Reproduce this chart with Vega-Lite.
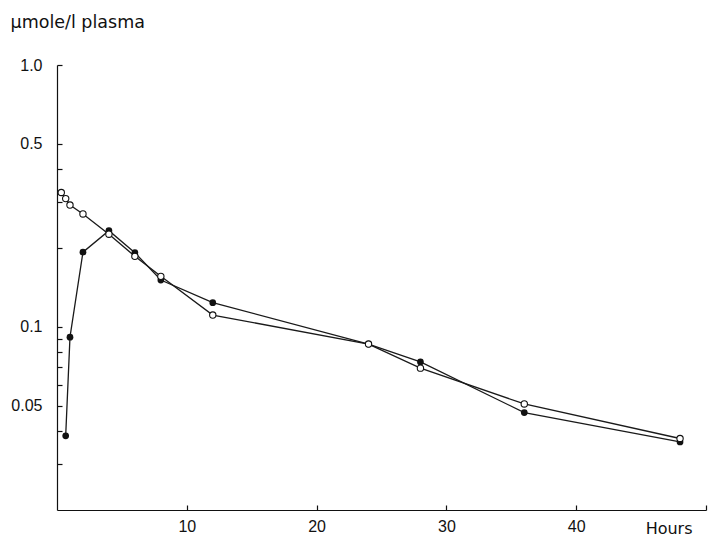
{
  "$schema": "https://vega.github.io/schema/vega-lite/v6.json",
  "width": 649,
  "height": 445,
  "autosize": {"type": "none"},
  "padding": {"left": 57, "top": 65, "right": 3, "bottom": 28},
  "background": "white",
  "config": {
    "view": {"stroke": null},
    "axis": {
      "grid": false,
      "domainColor": "#111",
      "tickColor": "#111",
      "labelColor": "#111",
      "titleColor": "#111",
      "labelFont": "Liberation Sans",
      "labelFontSize": 16,
      "titleFont": "DejaVu Sans",
      "titleFontSize": 17,
      "titleFontWeight": "normal",
      "domainWidth": 1.2,
      "tickWidth": 1.2
    }
  },
  "data": {
    "values": [
      {"t": 0.33, "v": 0.326, "series": "open"},
      {"t": 0.67, "v": 0.309, "series": "open"},
      {"t": 1, "v": 0.292, "series": "open"},
      {"t": 2, "v": 0.270, "series": "open"},
      {"t": 4, "v": 0.226, "series": "open"},
      {"t": 6, "v": 0.186, "series": "open"},
      {"t": 8, "v": 0.156, "series": "open"},
      {"t": 12, "v": 0.111, "series": "open"},
      {"t": 24, "v": 0.086, "series": "open"},
      {"t": 28, "v": 0.0696, "series": "open"},
      {"t": 36, "v": 0.0508, "series": "open"},
      {"t": 48, "v": 0.0375, "series": "open"},
      {"t": 0.67, "v": 0.0384, "series": "filled"},
      {"t": 1, "v": 0.0914, "series": "filled"},
      {"t": 2, "v": 0.193, "series": "filled"},
      {"t": 4, "v": 0.233, "series": "filled"},
      {"t": 6, "v": 0.192, "series": "filled"},
      {"t": 8, "v": 0.151, "series": "filled"},
      {"t": 12, "v": 0.1238, "series": "filled"},
      {"t": 24, "v": 0.086, "series": "filled"},
      {"t": 28, "v": 0.0735, "series": "filled"},
      {"t": 36, "v": 0.0471, "series": "filled"},
      {"t": 48, "v": 0.0364, "series": "filled"}
    ]
  },
  "encoding": {
    "x": {
      "field": "t",
      "type": "quantitative",
      "scale": {"domain": [0, 50], "nice": false, "zero": false},
      "axis": {
        "values": [10, 20, 30, 40, 50],
        "labelExpr": "datum.value == 50 ? '' : datum.label",
        "tickSize": -5,
        "labelPadding": 13,
        "title": "Hours",
        "titleFontSize": 16,
        "titleX": 635,
        "titleY": 18,
        "titleAlign": "right",
        "titleBaseline": "middle"
      }
    },
    "y": {
      "field": "v",
      "type": "quantitative",
      "scale": {"type": "log", "domain": [0.02, 1], "nice": false, "zero": false},
      "axis": {
        "values": [1, 0.5, 0.4, 0.3, 0.2, 0.1, 0.09, 0.08, 0.07, 0.06, 0.05, 0.04, 0.03],
        "labelExpr": "datum.value == 1 ? '1.0' : datum.value == 0.5 ? '0.5' : datum.value == 0.1 ? '0.1' : datum.value == 0.05 ? '0.05' : ''",
        "tickSize": -5,
        "labelPadding": 20,
        "title": "µmole/l plasma",
        "titleFontSize": 17.5,
        "titleAngle": 0,
        "titleAlign": "left",
        "titleBaseline": "middle",
        "titleX": -47,
        "titleY": -43
      }
    }
  },
  "layer": [
    {
      "mark": {"type": "line", "color": "#1a1a1a", "strokeWidth": 1.3},
      "encoding": {"detail": {"field": "series"}}
    },
    {
      "transform": [{"filter": "datum.series == 'filled'"}],
      "mark": {"type": "point", "filled": true, "color": "#111", "size": 45, "opacity": 1}
    },
    {
      "transform": [{"filter": "datum.series == 'open'"}],
      "mark": {"type": "point", "filled": false, "fill": "white", "stroke": "#111", "strokeWidth": 1.1, "size": 40, "opacity": 1}
    }
  ]
}
